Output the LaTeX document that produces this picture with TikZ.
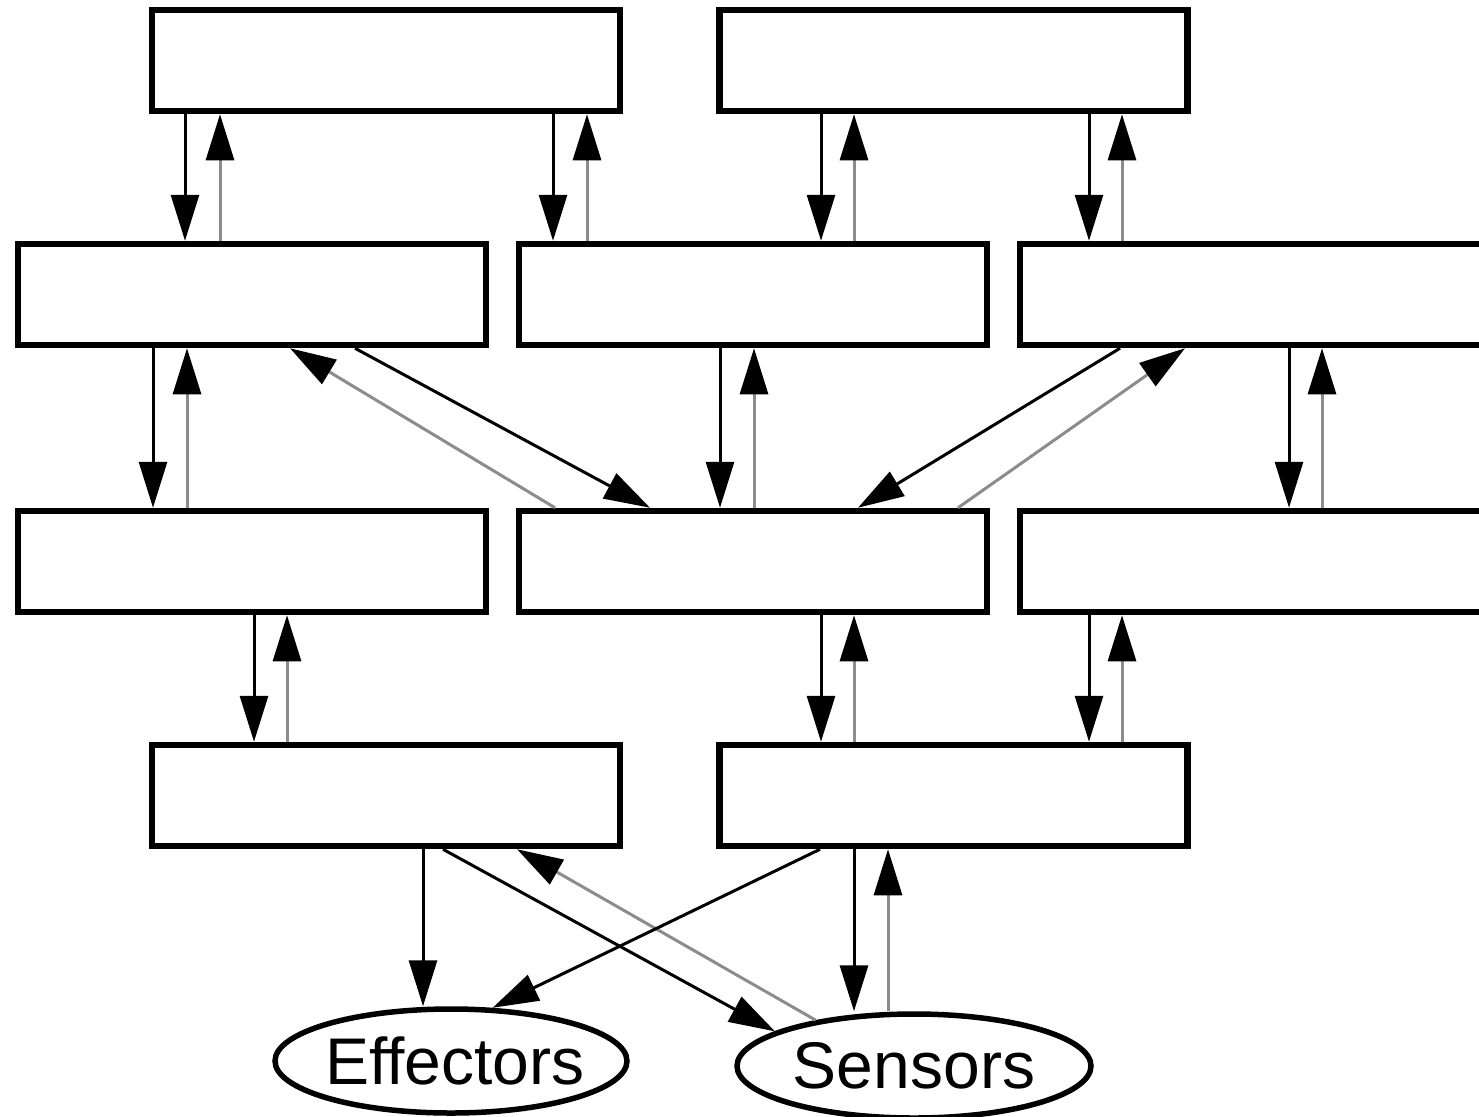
\documentclass[tikz,border=0pt]{standalone}
\usepackage{fontspec}
\setmainfont{Liberation Sans}[Ligatures=NoCommon]
\usetikzlibrary{arrows.meta,shapes.geometric}
\definecolor{fbgray}{HTML}{8C8C8C}

% a black command link going down and a grey feedback link going up
\newcommand\linkpair[4]{%
  \draw[cmd] (#1.south -| #3,0) -- (#2.north -| #3,0);
  \draw[fb]  (#2.north -| #4,0) -- (#1.south -| #4,0);}

\begin{document}
\begin{tikzpicture}[x=1pt,y=-1pt,
  layer/.style={draw=black, line width=6.5pt, rectangle,
    minimum width=468pt, minimum height=101pt, inner sep=0pt},
  io/.style={draw=black, line width=5.5pt, ellipse,
    minimum width=352pt, minimum height=104pt, inner sep=0pt,
    font=\fontsize{66}{70}\selectfont},
  cmd/.style={line width=3pt, draw=black,
    -{Triangle[length=46pt,width=28pt,black]}},
  fb/.style={line width=3pt, draw=fbgray,
    -{Triangle[length=46pt,width=28pt,black]}}]

\useasboundingbox (0,0) rectangle (1479,1116);
\clip (0,0) rectangle (1479,1116);

% layers of the hierarchy
\node[layer] (A) at (386,60.5) {};
\node[layer] (B) at (953.5,60.5) {};
\node[layer] (C) at (252,294.5) {};
\node[layer] (D) at (753,294.5) {};
\node[layer] (E) at (1254,294.5) {};
\node[layer] (F) at (252,561.5) {};
\node[layer] (G) at (753,561.5) {};
\node[layer] (H) at (1254,561.5) {};
\node[layer] (I) at (386,795.5) {};
\node[layer] (J) at (953.5,795.5) {};

% interface to the world (labels kept out of the ellipse sizing)
\node[io] (eff) at (451,1061) {\makebox[0pt]{\kern8pt Effectors}};
\node[io, minimum width=354pt] (sen) at (914,1066) {\makebox[0pt]{Sensors}};

% vertical links
\linkpair{A}{C}{185}{220}
\linkpair{A}{D}{553}{587}
\linkpair{B}{D}{821}{854}
\linkpair{B}{E}{1089}{1122}
\linkpair{C}{F}{153}{187}
\linkpair{D}{G}{720}{754}
\linkpair{E}{H}{1289}{1322}
\linkpair{F}{I}{254}{287}
\linkpair{G}{J}{821}{854}
\linkpair{H}{J}{1089}{1122}

% diagonal links into the central layer
\draw[cmd] (C.south -| 355,0) -- (G.north -| 650,0);
\draw[fb]  (G.north -| 555,0) -- (C.south -| 290,0);
\draw[cmd] (E.south -| 1120,0) -- (G.north -| 858,0);
\draw[fb]  (G.north -| 958,0) -- (E.south -| 1185,0);

% links to effectors and sensors
\draw[cmd] (I.south -| 423,0) -- (eff.north -| 423,0);
\draw[cmd] (I.south -| 443,0) -- (sen.166);
\draw[fb]  (sen.155) -- (I.south -| 517,0);
\draw[cmd] (J.south -| 820,0) -- (eff.52.6);
\draw[cmd] (J.south -| 854,0) -- (sen.north -| 854,0);
\draw[fb]  (sen.north -| 888,0) -- (J.south -| 888,0);
\end{tikzpicture}
\end{document}
